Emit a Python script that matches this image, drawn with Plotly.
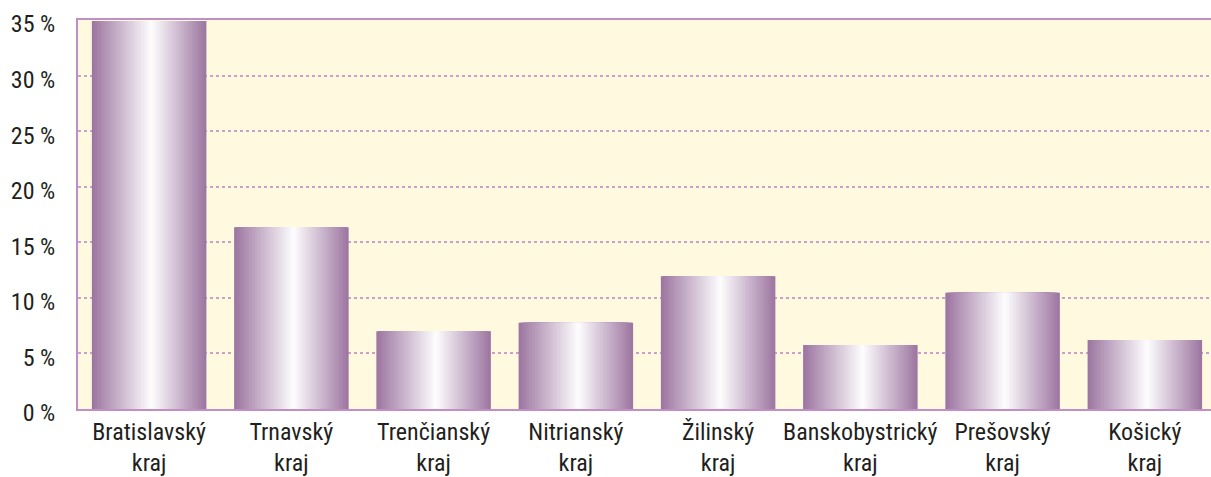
import plotly.graph_objects as go

categories = ["Bratislavský<br>kraj", "Trnavský<br>kraj", "Trenčianský<br>kraj", "Nitrianský<br>kraj",
              "Žilinský<br>kraj", "Banskobystrický<br>kraj", "Prešovský<br>kraj", "Košický<br>kraj"]
values = [34.9, 16.35, 7.0, 7.75, 11.95, 5.75, 10.45, 6.2]
tick_vals = [0, 5, 10, 15, 20, 25, 30, 35]
tick_text = ["0 %", "5 %", "10 %", "15 %", "20 %", "25 %", "30 %", "35 %"]

# gradient simulation by overlaying narrowing bars
DARK = (157, 118, 161)
LIGHT = (255, 255, 255)
W = 0.805
PEAK = 0.52
N = 40

fig = go.Figure()
xs = list(range(len(categories)))
for i in range(N):
    t = i / N
    left = -W / 2 + t * PEAK * W
    right = W / 2 - t * (1 - PEAK) * W
    c = tuple(round(DARK[k] + (LIGHT[k] - DARK[k]) * t) for k in range(3))
    fig.add_trace(go.Bar(
        x=xs, y=values, width=right - left, offset=left,
        marker=dict(color="rgb(%d,%d,%d)" % c, line=dict(width=0)),
        showlegend=False, hoverinfo="skip" if i else "y",
    ))

FONT = "Roboto Condensed, Liberation Sans Narrow, sans-serif"
fig.update_layout(
    width=1211, height=477,
    margin=dict(l=78, r=0, t=20, b=68),
    barmode="overlay",
    plot_bgcolor="#fffadf",
    paper_bgcolor="white",
    font=dict(family=FONT, size=24, color="#231f20"),
    xaxis=dict(
        tickmode="array", tickvals=xs, ticktext=categories,
        range=[-0.5, 7.465], showgrid=False, zeroline=False,
        showline=True, linecolor="#c18fc3", linewidth=2, mirror=True,
        ticks="", ticklabelstandoff=0, automargin=False, tickangle=0,
        tickfont=dict(family=FONT, size=24, color="#231f20"),
    ),
    yaxis=dict(
        range=[0, 35], tickmode="array", tickvals=tick_vals, ticktext=tick_text,
        showgrid=True, gridcolor="#c9a2cb", gridwidth=1.5, griddash="3px,3px",
        zeroline=False, showline=True, linecolor="#c18fc3", linewidth=2,
        ticks="", ticklabelstandoff=16, ticklabelshift=4, automargin=False,
        tickfont=dict(family=FONT, size=24, color="#231f20"),
    ),
)

fig.write_html("out.html", config={"displayModeBar": False},
               post_script="document.body.style.margin='0';document.body.style.overflow='hidden';")
